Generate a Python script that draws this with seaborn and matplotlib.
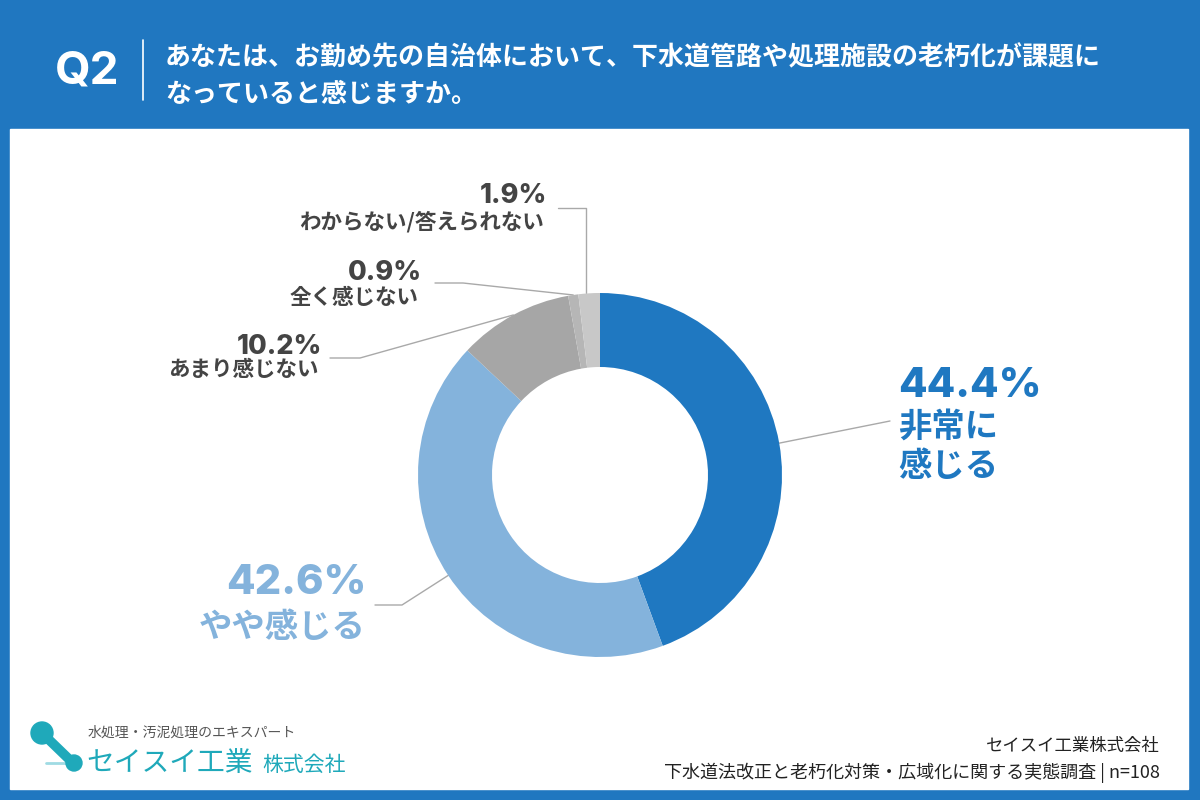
import numpy as np
import matplotlib
matplotlib.use("Agg")
import matplotlib.pyplot as plt
from matplotlib.patches import Rectangle, Circle
import seaborn as sns

# ---- data ----
categories = ["非常に感じる", "やや感じる", "あまり感じない", "全く感じない", "わからない/答えられない"]
values = [44.4, 42.6, 10.2, 0.9, 1.9]
pct_labels = ["44.4%", "42.6%", "10.2%", "0.9%", "1.9%"]
label_text = ["非常に\n感じる", "やや感じる", "あまり感じない", "全く感じない", "わからない/答えられない"]
colors = ["#1f78c1", "#84b3dc", "#a6a6a6", "#b6b6b6", "#c8c8c8"]

title_q = "Q2"
title_lines = ["あなたは、お勤め先の自治体において、下水道管路や処理施設の老朽化が課題に",
               "なっていると感じますか。"]
footer_lines = ["セイスイ工業株式会社", "下水道法改正と老朽化対策・広域化に関する実態調査 | n=108"]
logo_tag = "水処理・汚泥処理のエキスパート"
logo_name = "セイスイ工業"
logo_suffix = "株式会社"

sns.set_theme(style="white")
plt.rcParams['font.family'] = ['Noto Sans CJK JP', 'DejaVu Sans']
num_font = ['Inter', 'Noto Sans CJK JP', 'DejaVu Sans']

W, H = 1200, 800
fig = plt.figure(figsize=(12, 8), dpi=100)
fig.patch.set_facecolor("#2077c0")

bg = fig.add_axes([0, 0, 1, 1])
bg.set_xlim(0, W)
bg.set_ylim(H, 0)
bg.axis("off")
bg.add_patch(Rectangle((0, 0), W, H, color="#2077c0", zorder=0))
bg.add_patch(Rectangle((10, 129), 1178, 660, color="white", zorder=1))

# header
bg.text(55, 71, title_q, color="white", fontsize=33, fontweight="bold",
        va="center", ha="left", zorder=3, family=num_font)
bg.plot([143, 143], [40, 100], color="white", lw=1.2, zorder=3)
for i, line in enumerate(title_lines):
    bg.text(165, 58 + i * 36, line, color="white", fontsize=18.7, fontweight="bold",
            va="center", ha="left", zorder=3)

# donut
cx, cy, R, r_in = 600, 475, 182, 108
pie_ax = fig.add_axes([(cx - 200) / W, (H - cy - 200) / H, 400 / W, 400 / H])
pie_ax.patch.set_alpha(0)
wedges, _ = pie_ax.pie(values, colors=colors, startangle=90, counterclock=False,
                       radius=R, center=(0, 0),
                       wedgeprops=dict(width=R - r_in, linewidth=0))
pie_ax.set_xlim(-200, 200)
pie_ax.set_ylim(-200, 200)
pie_ax.set_aspect("equal")
pie_ax.axis("off")

# leader lines computed from wedge mid-angles
def anchor(w):
    ang = np.deg2rad((w.theta1 + w.theta2) / 2)
    return cx + R * np.cos(ang), cy - R * np.sin(ang)

lc = "#a9a9a9"
ax0, ay0 = anchor(wedges[0])
bg.plot([ax0, 890], [ay0, 421], color=lc, lw=1, zorder=3)
ax1, ay1 = anchor(wedges[1])
bg.plot([ax1, 402, 375], [ay1, 605, 605], color=lc, lw=1, zorder=3)
ax2, ay2 = anchor(wedges[2])
bg.plot([ax2, 360, 330], [ay2, 358, 358], color=lc, lw=1, zorder=3)
ax3, ay3 = anchor(wedges[3])
bg.plot([ax3, 463, 435], [ay3, 283, 283], color=lc, lw=1, zorder=3)
ax4, ay4 = anchor(wedges[4])
bg.plot([ax4 - 3, ax4 - 3, 558], [ay4, 208, 208], color=lc, lw=1, zorder=3)

# labels
dark = "#444444"
bg.text(898, 386, pct_labels[0], color=colors[0], fontsize=30, fontweight="heavy",
        ha="left", va="center", zorder=3, family=num_font)
bg.text(898, 447, label_text[0], color=colors[0], fontsize=24, fontweight="bold",
        ha="left", va="center", linespacing=1.25, zorder=3)

bg.text(366, 583, pct_labels[1], color=colors[1], fontsize=30, fontweight="heavy",
        ha="right", va="center", zorder=3, family=num_font)
bg.text(366, 628, label_text[1], color=colors[1], fontsize=24, fontweight="bold",
        ha="right", va="center", zorder=3)

small = [(2, 322, 347, 370), (3, 422, 273, 298), (4, 547, 196, 222)]
for idx, xr, yp, yl in small:
    bg.text(xr, yp, pct_labels[idx], color=dark, fontsize=19.5, fontweight="heavy",
            ha="right", va="center", zorder=3, family=num_font)
    bg.text(xr - 3, yl, label_text[idx], color=dark, fontsize=15.5, fontweight="bold",
            ha="right", va="center", zorder=3)

# footer
bg.text(1160, 746, footer_lines[0], color="#222222", fontsize=12.5, ha="right", va="center", zorder=3)
bg.text(1160, 773, footer_lines[1], color="#222222", fontsize=13, ha="right", va="center", zorder=3)

# logo
teal = "#1fa9ba"
bg.plot([46, 73], [763, 763], color="#9fdbe3", lw=2, zorder=3)
bg.plot([42, 73], [733, 763], color=teal, lw=7, solid_capstyle="round", zorder=3)
bg.add_patch(Circle((42, 733), 11, color=teal, zorder=4))
bg.add_patch(Circle((74, 763), 8, color=teal, zorder=4))
bg.text(88, 733, logo_tag, color="#555555", fontsize=10, ha="left", va="center", zorder=3)
bg.text(86, 763, logo_name, color=teal, fontsize=20, ha="left", va="center", zorder=3)
bg.text(262, 765, logo_suffix, color=teal, fontsize=15, ha="left", va="center", zorder=3)

fig.savefig("out.png", dpi=100)
